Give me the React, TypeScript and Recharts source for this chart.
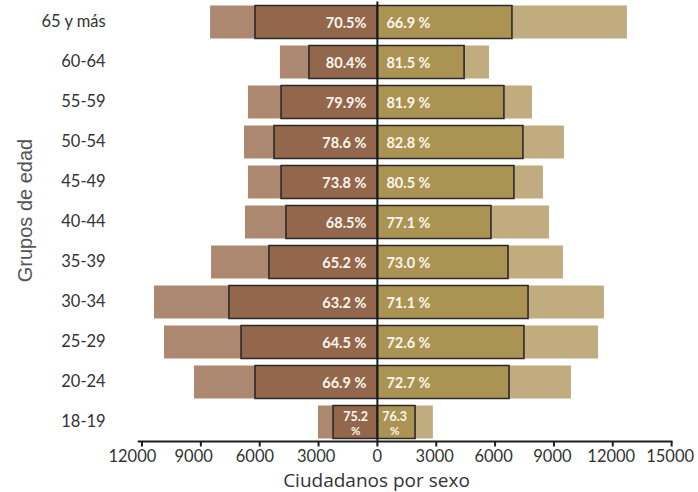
import React from 'react';
import { BarChart, Bar, XAxis, YAxis, ReferenceLine, LabelList, Label } from 'recharts';

const ageGroups = ['65 y más', '60-64', '55-59', '50-54', '45-49', '40-44', '35-39', '30-34', '25-29', '20-24', '18-19'];
const leftTotal = [8530, 4970, 6600, 6800, 6600, 6750, 8480, 11390, 10880, 9350, 3030];
const leftVoters = [6240, 3490, 4910, 5270, 4910, 4660, 5530, 7570, 6950, 6240, 2260];
const rightTotal = [12720, 5690, 7880, 9510, 8440, 8750, 9460, 11550, 11250, 9870, 2830];
const rightVoters = [6860, 4420, 6450, 7420, 6960, 5790, 6660, 7680, 7470, 6710, 1920];
const leftPct = ['70.5%', '80.4%', '79.9%', '78.6 %', '73.8 %', '68.5%', '65.2 %', '63.2 %', '64.5 %', '66.9 %', '75.2 %'];
const rightPct = ['66.9 %', '81.5 %', '81.9 %', '82.8 %', '80.5 %', '77.1 %', '73.0 %', '71.1 %', '72.6 %', '72.7 %', '76.3 %'];
const xTicks = [-12000, -9000, -6000, -3000, 0, 3000, 6000, 9000, 12000, 15000];

const data = ageGroups.map((g, i) => ({
  group: g,
  lt: -leftTotal[i],
  rt: rightTotal[i],
  lv: -leftVoters[i],
  rv: rightVoters[i],
  lp: leftPct[i],
  rp: rightPct[i],
}));

const LABEL_FONT = 'Lato, "Open Sans", sans-serif';
const AXIS_FONT = '"Open Sans", Lato, sans-serif';
const LABEL_FILL = '#fbf7ee';

const getBox = (props: any) => {
  const vb = props.viewBox && props.viewBox.width !== undefined ? props.viewBox : props;
  const x = Number(vb.x), w = Number(vb.width), y = Number(vb.y), h = Number(vb.height);
  const left = Math.min(x, x + w);
  const right = Math.max(x, x + w);
  const top = Math.min(y, y + h);
  const bottom = Math.max(y, y + h);
  return { left, right, top, bottom, cy: (top + bottom) / 2, width: right - left };
};

const makeLabel = (side: 'left' | 'right') => (props: any) => {
  const b = getBox(props);
  const value = String(props.value ?? '');
  if (b.width < 50) {
    const parts = value.split(' ');
    const cx = (b.left + b.right) / 2 + (side === 'right' ? -1.5 : 0.5);
    return (
      <g>
        <text x={cx} y={b.cy - 1.5} fontFamily={LABEL_FONT} fontWeight={700} fontSize={12.5} fill={LABEL_FILL} textAnchor="middle">
          {parts[0]}
        </text>
        <text x={cx} y={b.cy + 12.5} fontFamily={LABEL_FONT} fontWeight={700} fontSize={11.5} fill={LABEL_FILL} textAnchor="middle">
          {parts.slice(1).join(' ')}
        </text>
      </g>
    );
  }
  if (side === 'left') {
    return (
      <text x={b.right - 11} y={b.cy + 5.5} textAnchor="end" fontFamily={LABEL_FONT} fontWeight={700} fontSize={14.5} fill={LABEL_FILL}>
        {value}
      </text>
    );
  }
  return (
    <text x={b.left + 9} y={b.cy + 5.5} textAnchor="start" fontFamily={LABEL_FONT} fontWeight={700} fontSize={14.5} fill={LABEL_FILL}>
      {value}
    </text>
  );
};

const YTick = (props: any) => (
  <text x={props.x} y={props.y + 5.5} textAnchor="end" fontFamily={LABEL_FONT} fontSize={16.5} fill="#333">
    {props.payload.value}
  </text>
);

const XTick = (props: any) => {
  const v = Number(props.payload.value);
  const dx = v < 0 ? v * 0.0008 : v > 0 ? -1.5 : 0;
  return (
    <text x={props.x + dx} y={props.y + 13} textAnchor="middle" fontFamily={LABEL_FONT} fontSize={16.5} fill="#333">
      {Math.abs(v)}
    </text>
  );
};

export default function App() {
  return (
    <div style={{ position: 'absolute', left: 0, top: 0, width: 698, height: 492, background: '#fff' }}>
      <BarChart
        width={698}
        height={492}
        data={data}
        layout="vertical"
        stackOffset="sign"
        barSize={33}
        barGap={-33}
        margin={{ top: 1.5, right: 25.4, bottom: 0, left: 0 }}
      >
        <XAxis
          type="number"
          domain={[-12220, 15050]}
          ticks={xTicks}
          allowDataOverflow
          height={50.5}
          axisLine={{ stroke: '#1e1e1e', strokeWidth: 2 }}
          tickLine={{ stroke: '#1e1e1e', strokeWidth: 2 }}
          tickSize={5}
          tickMargin={2}
          tick={<XTick />}
          interval={0}
        >
          <Label
            content={() => (
              <text x={376.5} y={486.5} textAnchor="middle" fontFamily={AXIS_FONT} fontSize={19} fill="#333">
                Ciudadanos por sexo
              </text>
            )}
          />
        </XAxis>
        <YAxis
          type="category"
          dataKey="group"
          width={137.7}
          axisLine={false}
          tickLine={false}
          tickSize={0}
          tickMargin={32}
          tick={<YTick />}
          interval={0}
        >
          <Label
            content={() => (
              <text
                x={31.5}
                y={210.5}
                transform="rotate(-90, 31.5, 210.5)"
                textAnchor="middle"
                fontFamily='"Liberation Sans", Arial, sans-serif'
                fontSize={20}
                fill="#555"
              >
                Grupos de edad
              </text>
            )}
          />
        </YAxis>
        <Bar dataKey="lt" stackId="t" fill="#ad8870" isAnimationActive={false} />
        <Bar dataKey="rt" stackId="t" fill="#c0ac7e" isAnimationActive={false} />
        <Bar dataKey="lv" stackId="v" fill="#93674c" stroke="#2a2a2a" strokeWidth={1.6} isAnimationActive={false}>
          <LabelList dataKey="lp" content={makeLabel('left')} />
        </Bar>
        <Bar dataKey="rv" stackId="v" fill="#ab9353" stroke="#2a2a2a" strokeWidth={1.6} isAnimationActive={false}>
          <LabelList dataKey="rp" content={makeLabel('right')} />
        </Bar>
        <ReferenceLine x={0} stroke="#1a1a1a" strokeWidth={2} ifOverflow="visible" />
      </BarChart>
    </div>
  );
}
